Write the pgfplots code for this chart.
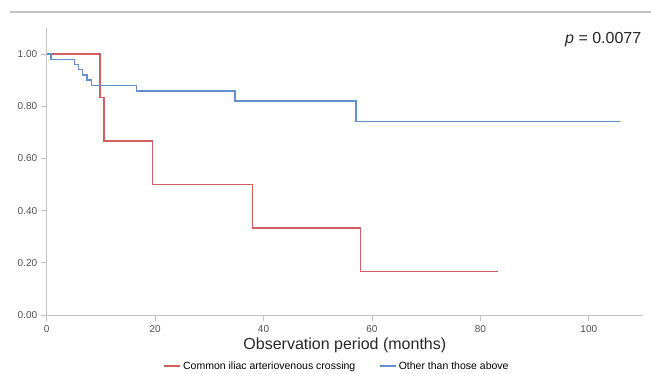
\documentclass[border=0pt]{standalone}
\usepackage{pgfplots}
\pgfplotsset{compat=1.18}
\usepackage{fontspec}
\setmainfont{Liberation Sans}
\definecolor{kmred}{RGB}{210,95,95}
\definecolor{kmblue}{RGB}{100,145,205}
\definecolor{axgray}{RGB}{195,195,195}
\definecolor{txtgray}{RGB}{80,80,80}
\begin{document}
\begin{tikzpicture}[x=1pt,y=1pt]
\useasboundingbox (0,0) rectangle (651,374);
\draw[axgray, line width=1.2pt] (10,362) -- (651,362);
\begin{axis}[
  at={(46.7pt,59pt)}, anchor=south west,
  scale only axis, width=596.3pt, height=287pt,
  xmin=0, xmax=110, ymin=0, ymax=1.1,
  axis x line=bottom, axis y line=left,
  axis line style={-, axgray, line width=0.8pt},
  xtick={0,20,40,60,80,100},
  ytick={0,0.2,0.4,0.6,0.8,1.0},
  tick align=outside, major tick length=6pt,
  tick style={axgray, line width=0.8pt},
  /pgf/number format/assume math mode=true,
  yticklabel style={/pgf/number format/.cd, fixed, fixed zerofill, precision=2},
  ticklabel style={font=\fontsize{10}{11}\selectfont, text=txtgray},
  xticklabel style={yshift=-1pt},
  legend style={at={(0.487,-0.178)}, anchor=center, draw=none, fill=none,
    font=\fontsize{10.5}{12}\selectfont, legend columns=2,
    /tikz/every even column/.append style={column sep=22pt}},
  legend image code/.code={\draw[#1] (0,0) -- (16pt,0);},
  clip=false,
]
\addplot[const plot, kmred, line width=1.5pt] coordinates {
(0,1) (9.8,0.8333) (10.6,0.6667) (19.5,0.5) (38.0,0.3333) (57.9,0.1667) (83.2,0.1667)};
\addlegendentry{Common iliac arteriovenous crossing}
\addplot[const plot, kmblue, line width=1.5pt] coordinates {
(0,1) (0.8,0.98) (5.1,0.96) (5.9,0.94) (6.6,0.92) (7.4,0.90) (8.3,0.88) (16.6,0.859) (34.7,0.82) (57.1,0.741) (105.8,0.741)};
\addlegendentry{Other than those above}
\node[anchor=center, font=\fontsize{16}{18}\selectfont, text=black!85] at (rel axis cs:0.5,-0.105) {Observation period (months)};
\node[anchor=east, font=\fontsize{16}{18}\selectfont, text=black!85] at (rel axis cs:1.003,0.958) {\textit{p} = 0.0077};
\end{axis}
\end{tikzpicture}
\end{document}
